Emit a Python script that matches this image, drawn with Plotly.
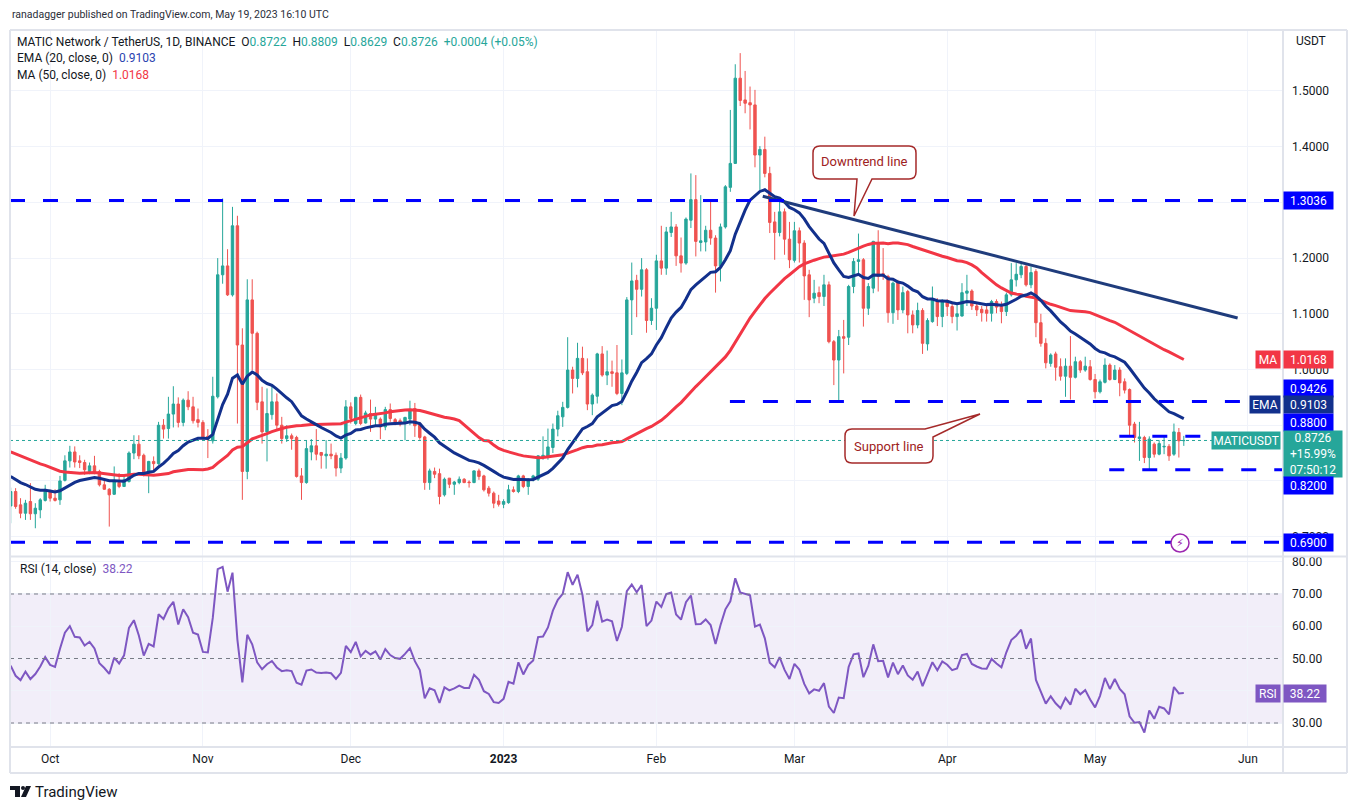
import pandas as pd
import plotly.graph_objects as go

# MATIC/USDT daily candles, 2022-09-23 .. 2023-05-19
opens = [
    0.755, 0.781, 0.757, 0.742, 0.763, 0.741, 0.748, 0.765,  # Sep
    0.781, 0.769, 0.766, 0.801, 0.836, 0.852, 0.836, 0.833, 0.817, 0.827, 0.817, 0.793, 0.785, 0.776, 0.797, 0.790,
    0.799, 0.850, 0.866, 0.846, 0.814, 0.835, 0.831, 0.900, 0.894, 0.920, 0.938, 0.905, 0.945, 0.933, 0.910,  # Oct
    0.905, 0.880, 0.872, 0.951, 1.170, 1.186, 1.134, 1.258, 1.044, 0.817, 1.125, 1.065, 0.942, 0.888, 0.919,
    0.942, 0.900, 0.876, 0.881, 0.878, 0.809, 0.797, 0.852, 0.863, 0.851, 0.845, 0.848, 0.846, 0.823, 0.841,  # Nov
    0.933, 0.903, 0.950, 0.904, 0.921, 0.911, 0.911, 0.897, 0.928, 0.910, 0.908, 0.904, 0.911, 0.930, 0.903, 0.879,
    0.797, 0.817, 0.813, 0.775, 0.805, 0.794, 0.797, 0.803, 0.798, 0.797, 0.818, 0.809, 0.787, 0.778, 0.764,  # Dec
    0.758, 0.761, 0.784, 0.781, 0.809, 0.790, 0.802, 0.803, 0.842, 0.842, 0.860, 0.893, 0.915, 0.932, 0.999, 0.984,
    1.020, 0.996, 0.938, 0.952, 1.028, 0.990, 0.996, 0.994, 0.957, 0.993, 1.125, 1.160, 1.144, 1.179, 1.088,  # Jan
    1.110, 1.195, 1.182, 1.246, 1.256, 1.204, 1.191, 1.268, 1.305, 1.228, 1.229, 1.250, 1.236, 1.186,
    1.256, 1.327, 1.370, 1.523, 1.484, 1.479, 1.475, 1.385, 1.395, 1.352, 1.265, 1.246, 1.283, 1.234,  # Feb
    1.196, 1.249, 1.227, 1.170, 1.128, 1.138, 1.131, 1.152, 1.050, 1.017, 1.059, 1.058, 1.149, 1.194, 1.197, 1.110,
    1.146, 1.225, 1.172, 1.167, 1.102, 1.156, 1.107, 1.140, 1.098, 1.080, 1.106, 1.046, 1.086, 1.122, 1.095,  # Mar
    1.124, 1.113, 1.095, 1.096, 1.137, 1.141, 1.114, 1.108, 1.107, 1.101, 1.122, 1.113, 1.104, 1.134, 1.161,
    1.170, 1.185, 1.152, 1.176, 1.084, 1.047, 1.011, 1.028, 1.005, 0.988, 1.006, 0.986, 1.014, 0.999, 1.005,  # Apr
    0.982, 0.960, 0.977, 1.008, 0.982, 0.999, 0.978, 0.964, 0.902, 0.876, 0.878, 0.842, 0.866, 0.848, 0.861,
    0.862, 0.848, 0.887, 0.8722,  # May
]
highs = [
    0.788, 0.787, 0.769, 0.766, 0.796, 0.760, 0.769, 0.793,
    0.784, 0.785, 0.809, 0.846, 0.863, 0.862, 0.846, 0.838, 0.833, 0.845, 0.820, 0.802, 0.787, 0.826, 0.814, 0.809,
    0.853, 0.882, 0.882, 0.849, 0.836, 0.844, 0.906, 0.911, 0.951, 0.970, 0.950, 0.948, 0.961, 0.951, 0.930,
    0.909, 0.893, 0.987, 1.200, 1.307, 1.216, 1.292, 1.276, 1.074, 1.162, 1.162, 1.068, 0.969, 0.966, 0.974,
    0.957, 0.915, 0.900, 0.885, 0.881, 0.823, 0.873, 0.875, 0.893, 0.852, 0.873, 0.867, 0.851, 0.850, 0.945,
    0.941, 0.951, 0.955, 0.926, 0.946, 0.933, 0.914, 0.933, 0.939, 0.913, 0.912, 0.915, 0.944, 0.940, 0.906, 0.881,
    0.822, 0.824, 0.822, 0.806, 0.805, 0.800, 0.808, 0.805, 0.801, 0.819, 0.822, 0.811, 0.791, 0.781, 0.775,
    0.767, 0.793, 0.790, 0.811, 0.811, 0.805, 0.811, 0.846, 0.880, 0.894, 0.903, 0.926, 0.942, 1.058, 1.005, 1.048,
    1.041, 1.020, 0.957, 1.030, 1.042, 1.034, 1.016, 1.044, 1.018, 1.130, 1.192, 1.170, 1.200, 1.182, 1.128,
    1.206, 1.258, 1.256, 1.283, 1.261, 1.237, 1.273, 1.352, 1.349, 1.313, 1.258, 1.304, 1.241, 1.262,
    1.331, 1.466, 1.548, 1.568, 1.536, 1.508, 1.502, 1.401, 1.418, 1.364, 1.283, 1.301, 1.289, 1.265,
    1.265, 1.255, 1.232, 1.179, 1.161, 1.149, 1.170, 1.158, 1.053, 1.071, 1.089, 1.152, 1.200, 1.244, 1.200, 1.155,
    1.231, 1.250, 1.218, 1.170, 1.158, 1.161, 1.149, 1.143, 1.106, 1.120, 1.110, 1.092, 1.149, 1.128, 1.126,
    1.126, 1.122, 1.119, 1.155, 1.170, 1.144, 1.119, 1.114, 1.116, 1.125, 1.126, 1.122, 1.138, 1.191, 1.191,
    1.194, 1.189, 1.185, 1.180, 1.100, 1.056, 1.029, 1.032, 1.020, 1.020, 1.060, 1.023, 1.017, 1.023, 1.017,
    0.992, 0.982, 1.020, 1.011, 1.008, 1.004, 0.984, 0.966, 0.906, 0.906, 0.881, 0.880, 0.869, 0.873, 0.879,
    0.866, 0.903, 0.895, 0.8809,
]
lows = [
    0.724, 0.750, 0.733, 0.730, 0.730, 0.715, 0.733, 0.763,
    0.763, 0.763, 0.757, 0.799, 0.824, 0.824, 0.823, 0.811, 0.812, 0.812, 0.790, 0.784, 0.718, 0.775, 0.787, 0.789,
    0.797, 0.839, 0.839, 0.808, 0.778, 0.817, 0.829, 0.876, 0.876, 0.896, 0.896, 0.898, 0.927, 0.903, 0.896,
    0.874, 0.841, 0.867, 0.948, 1.154, 1.132, 1.131, 0.903, 0.766, 0.803, 0.999, 0.927, 0.867, 0.835, 0.910,
    0.891, 0.867, 0.870, 0.856, 0.806, 0.766, 0.795, 0.837, 0.837, 0.822, 0.822, 0.839, 0.808, 0.814, 0.838,
    0.903, 0.900, 0.900, 0.903, 0.888, 0.897, 0.875, 0.891, 0.906, 0.900, 0.898, 0.873, 0.900, 0.879, 0.874, 0.784,
    0.784, 0.805, 0.758, 0.772, 0.787, 0.775, 0.794, 0.796, 0.788, 0.796, 0.802, 0.781, 0.772, 0.751, 0.754,
    0.751, 0.759, 0.779, 0.778, 0.787, 0.775, 0.799, 0.800, 0.838, 0.838, 0.850, 0.880, 0.897, 0.930, 0.957, 0.968,
    0.990, 0.927, 0.918, 0.939, 0.987, 0.972, 0.969, 0.954, 0.936, 0.990, 1.062, 1.094, 1.131, 1.066, 1.080,
    1.071, 1.170, 1.170, 1.238, 1.186, 1.174, 1.188, 1.254, 1.203, 1.212, 1.212, 1.224, 1.138, 1.158,
    1.253, 1.319, 1.369, 1.473, 1.460, 1.431, 1.363, 1.322, 1.345, 1.245, 1.197, 1.239, 1.206, 1.182,
    1.192, 1.192, 1.125, 1.094, 1.119, 1.119, 1.114, 1.047, 0.972, 0.944, 0.993, 1.044, 1.137, 1.173, 1.077, 1.098,
    1.137, 1.140, 1.161, 1.084, 1.082, 1.089, 1.101, 1.065, 1.065, 1.074, 1.028, 1.034, 1.084, 1.078, 1.076,
    1.096, 1.083, 1.070, 1.095, 1.114, 1.107, 1.096, 1.086, 1.086, 1.086, 1.101, 1.083, 1.096, 1.131, 1.149,
    1.164, 1.149, 1.146, 1.058, 1.041, 1.002, 1.005, 0.980, 0.980, 0.951, 0.946, 0.984, 0.994, 0.996, 0.980,
    0.948, 0.957, 0.975, 0.980, 0.981, 0.952, 0.957, 0.881, 0.869, 0.836, 0.832, 0.821, 0.842, 0.846, 0.848,
    0.836, 0.845, 0.842, 0.8629,
]
closes = [
    0.781, 0.754, 0.742, 0.760, 0.741, 0.751, 0.766, 0.785,
    0.769, 0.765, 0.800, 0.836, 0.852, 0.834, 0.833, 0.820, 0.827, 0.817, 0.793, 0.785, 0.775, 0.799, 0.790, 0.802,
    0.850, 0.866, 0.845, 0.814, 0.835, 0.831, 0.900, 0.893, 0.920, 0.938, 0.905, 0.945, 0.933, 0.908, 0.905,
    0.876, 0.875, 0.952, 1.170, 1.186, 1.134, 1.258, 1.044, 0.817, 1.125, 1.065, 0.941, 0.888, 0.921, 0.942,
    0.900, 0.876, 0.881, 0.876, 0.808, 0.797, 0.858, 0.863, 0.848, 0.846, 0.848, 0.845, 0.823, 0.841, 0.933,
    0.912, 0.950, 0.903, 0.922, 0.911, 0.921, 0.897, 0.928, 0.912, 0.904, 0.902, 0.914, 0.928, 0.899, 0.878, 0.797,
    0.818, 0.812, 0.772, 0.803, 0.794, 0.798, 0.803, 0.797, 0.797, 0.818, 0.808, 0.784, 0.778, 0.760, 0.758,
    0.763, 0.784, 0.781, 0.809, 0.790, 0.803, 0.809, 0.845, 0.846, 0.861, 0.893, 0.917, 0.932, 0.999, 0.984, 1.020,
    0.994, 0.938, 0.954, 1.028, 0.990, 0.996, 0.993, 0.957, 0.994, 1.125, 1.159, 1.144, 1.179, 1.088, 1.110,
    1.195, 1.182, 1.247, 1.256, 1.204, 1.191, 1.270, 1.305, 1.230, 1.231, 1.250, 1.236, 1.186, 1.256,
    1.328, 1.370, 1.523, 1.483, 1.478, 1.475, 1.385, 1.395, 1.352, 1.264, 1.246, 1.283, 1.234, 1.197,
    1.249, 1.227, 1.168, 1.125, 1.137, 1.131, 1.152, 1.050, 1.017, 1.059, 1.056, 1.149, 1.194, 1.197, 1.110, 1.149,
    1.230, 1.167, 1.168, 1.102, 1.155, 1.107, 1.138, 1.098, 1.080, 1.106, 1.047, 1.088, 1.125, 1.095, 1.124,
    1.113, 1.095, 1.100, 1.138, 1.141, 1.114, 1.107, 1.102, 1.101, 1.122, 1.112, 1.104, 1.134, 1.161, 1.171,
    1.185, 1.152, 1.174, 1.084, 1.047, 1.012, 1.026, 1.004, 0.988, 1.006, 0.986, 1.014, 0.999, 1.006, 0.982,
    0.960, 0.978, 1.008, 0.982, 0.999, 0.976, 0.963, 0.900, 0.878, 0.879, 0.842, 0.875, 0.848, 0.867, 0.862,
    0.845, 0.888, 0.872, 0.8726,
]
# closes before the visible window (Aug 4 .. Sep 22 2022), only used to warm up EMA / MA / RSI
pre_closes = [
    0.88, 0.94, 0.92, 0.93, 0.96, 0.90, 0.94, 0.91, 0.95, 0.97, 0.94, 0.90, 0.90, 0.86, 0.87, 0.80, 0.78, 0.82,
    0.84, 0.85, 0.85, 0.88, 0.80, 0.80, 0.77, 0.83, 0.84, 0.86,
    0.87, 0.86, 0.84, 0.86, 0.85, 0.78, 0.84, 0.84, 0.90, 0.91, 0.90, 0.90, 0.80, 0.82, 0.78, 0.80, 0.83, 0.77,
    0.79, 0.77, 0.74, 0.76,
]

# price labels that are not hidden behind the level tags
price_ticks = [0.7, 1.0, 1.1, 1.2, 1.4, 1.5]
rsi_ticks = [30, 40, 50, 60, 70, 80]
month_ticks = ["2022-10-01", "2022-11-01", "2022-12-01", "2023-01-01", "2023-02-01",
               "2023-03-01", "2023-04-01", "2023-05-01", "2023-06-01"]
month_labels = ["Oct", "Nov", "Dec", "<b>2023</b>", "Feb", "Mar", "Apr", "May", "Jun"]

# drawn levels
full_levels = [1.3036, 0.69]
level_0942 = (0.9426, "2023-02-15 22:00", "2023-05-31 19:00")
level_088 = (0.88, "2023-05-05 22:00", "2023-05-22 14:00")
level_082 = (0.82, "2023-05-03 21:00")
trend_x = ["2023-02-22 14:00", "2023-05-29 22:00"]
trend_y = [1.311, 1.0925]

UP, DOWN = "#26a69a", "#ef5350"
EMA_C, MA_C, RSI_C, LVL = "#12308c", "#f23645", "#7e57c2", "#0000ff"
TXT, GRID, FRAME = "#131722", "#f0f3fa", "#e0e3eb"

dates = pd.date_range("2022-09-23", periods=len(closes), freq="D")
n0 = len(pre_closes)
s = pd.Series(pre_closes + closes)
ema20 = s.ewm(span=20, adjust=False).mean().iloc[n0:].values
ma50 = s.rolling(50).mean().iloc[n0:].values
d = s.diff()
up = d.clip(lower=0).ewm(alpha=1 / 14, adjust=False).mean()
dn = (-d.clip(upper=0)).ewm(alpha=1 / 14, adjust=False).mean()
rsi = (100 - 100 / (1 + up / dn)).iloc[n0:].values

# page geometry (the browser puts the figure 8px in from the top-left corner)
OFF = 8
W, H = 1357 - OFF, 809 - OFF
L, R, T, B = 10 - OFF, 74, 30 - OFF, 63
PW, PH = W - L - R, H - T - B


def px(x):
    return (x - OFF - L) / PW


def py(y):
    return (H - B - (y - OFF)) / PH


fig = go.Figure()
fig.add_trace(go.Candlestick(
    x=dates, open=opens, high=highs, low=lows, close=closes, xaxis="x2", yaxis="y",
    increasing=dict(line=dict(color=UP, width=1), fillcolor=UP),
    decreasing=dict(line=dict(color=DOWN, width=1), fillcolor=DOWN),
    whiskerwidth=0, showlegend=False, hoverinfo="skip"))
fig.add_trace(go.Scatter(x=dates, y=ma50, xaxis="x2", yaxis="y", mode="lines",
                         line=dict(color=MA_C, width=3), showlegend=False))
fig.add_trace(go.Scatter(x=dates, y=ema20, xaxis="x2", yaxis="y", mode="lines",
                         line=dict(color=EMA_C, width=3), showlegend=False))
fig.add_trace(go.Scatter(x=trend_x, y=trend_y, xaxis="x2", yaxis="y", mode="lines",
                         line=dict(color="#1f3c7c", width=3), showlegend=False))
fig.add_trace(go.Scatter(x=dates, y=rsi, xaxis="x", yaxis="y2", mode="lines",
                         line=dict(color=RSI_C, width=2), showlegend=False))

shapes = []
dash = "15px,18px"
for lv in full_levels:
    shapes.append(dict(type="line", xref="paper", yref="y", x0=0, x1=1, y0=lv, y1=lv,
                       line=dict(color=LVL, width=3, dash=dash)))
for lv, a, b in [level_0942, level_088]:
    shapes.append(dict(type="line", xref="x2", yref="y", x0=a, x1=b, y0=lv, y1=lv,
                       line=dict(color=LVL, width=3, dash=dash)))
shapes.append(dict(type="line", xref="x2", yref="y", x0=level_082[1], x1="2023-06-09", y0=level_082[0],
                   y1=level_082[0], line=dict(color=LVL, width=3, dash=dash)))
# last price dotted line
shapes.append(dict(type="line", xref="paper", yref="y", x0=0, x1=1, y0=closes[-1], y1=closes[-1],
                   line=dict(color=UP, width=1, dash="dot")))
# RSI band + levels
shapes.append(dict(type="rect", xref="paper", yref="y2", x0=0, x1=1, y0=30, y1=70,
                   fillcolor="rgba(126,87,194,0.1)", line=dict(width=0), layer="below"))
for lv in [70, 50, 30]:
    shapes.append(dict(type="line", xref="paper", yref="y2", x0=0, x1=1, y0=lv, y1=lv,
                       line=dict(color="#787b86", width=1, dash="4px,4px")))


def seg(x0, y0, x1, y1, c=FRAME, w=2):
    return dict(type="line", xref="paper", yref="paper", x0=px(x0), y0=py(y0), x1=px(x1), y1=py(y1),
                line=dict(color=c, width=w))


# frame and pane separators
shapes += [seg(10, 30, 1347, 30), seg(10, 30, 10, 773), seg(1347, 30, 1347, 773), seg(10, 773, 1347, 773),
           seg(1283, 30, 1283, 773), seg(10, 747, 1347, 747), seg(10, 556.5, 1347, 556.5)]


def pt(x, y):
    return f"{px(x):.5f},{py(y):.5f}"


def bubble(pts):
    out = "M" + pt(*pts[0])
    for p in pts[1:]:
        if len(p) == 4:
            out += " Q" + pt(p[0], p[1]) + " " + pt(p[2], p[3])
        else:
            out += " L" + pt(*p)
    return out + " Z"


r = 7
down_box = [(813 + r, 146), (916 - r, 146), (916, 146, 916, 146 + r), (916, 179 - r), (916, 179, 916 - r, 179),
            (872, 179), (854, 216), (857, 179), (813 + r, 179), (813, 179, 813, 179 - r), (813, 146 + r),
            (813, 146, 813 + r, 146)]
sup_box = [(845 + r, 429), (925, 429), (980, 414), (933, 437), (933, 463 - r), (933, 463, 933 - r, 463),
           (845 + r, 463), (845, 463, 845, 463 - r), (845, 429 + r), (845, 429, 845 + r, 429)]
for bx in [down_box, sup_box]:
    shapes.append(dict(type="path", xref="paper", yref="paper", path=bubble(bx),
                       fillcolor="white", line=dict(color="#a52a2a", width=1.5)))
# alert icon circle
shapes.append(dict(type="circle", xref="paper", yref="paper", x0=px(1171), x1=px(1189), y0=py(552), y1=py(534),
                   fillcolor="white", line=dict(color="#9c27b0", width=1.5)))
# TradingView logo mark
shapes += [
    dict(type="rect", xref="paper", yref="paper", x0=px(10), x1=px(20), y0=py(790), y1=py(786),
         fillcolor=TXT, line=dict(width=0)),
    dict(type="rect", xref="paper", yref="paper", x0=px(15), x1=px(20), y0=py(797), y1=py(786),
         fillcolor=TXT, line=dict(width=0)),
    dict(type="circle", xref="paper", yref="paper", x0=px(21), x1=px(25), y0=py(790), y1=py(786),
         fillcolor=TXT, line=dict(width=0)),
    dict(type="path", xref="paper", yref="paper",
         path=f"M{pt(26, 786)} L{pt(31, 786)} L{pt(26, 797)} L{pt(21, 797)} Z", fillcolor=TXT, line=dict(width=0)),
]

ann = []


def text(x, y, t, size=12, color=TXT, anchor="left", fam="Roboto"):
    ann.append(dict(xref="paper", yref="paper", x=px(x), y=py(y), xanchor=anchor, yanchor="middle",
                    text=t, showarrow=False, font=dict(size=size, color=color, family=fam)))


def box(t, yv, bg, yref="y", shift=0, x=1283, w=47, h=15, anchor="left", fc="white"):
    ann.append(dict(xref="paper", x=px(x), xanchor=anchor, yref=yref, y=yv, yshift=shift, yanchor="middle",
                    text=t, showarrow=False, bgcolor=bg, width=w, height=h, borderpad=1, align="center",
                    font=dict(size=12, color=fc, family="Roboto")))


text(10, 14, "ranadagger published on TradingView.com, May 19, 2023 16:10 UTC", size=10.5, color="#2a2e39")
g = f"color:{UP}"
text(15, 42, f"MATIC Network / TetherUS, 1D, BINANCE  O<span style='{g}'>0.8722</span>  "
             f"H<span style='{g}'>0.8809</span>  L<span style='{g}'>0.8629</span>  "
             f"C<span style='{g}'>0.8726</span>  <span style='{g}'>+0.0004 (+0.05%)</span>", size=12)
text(15, 58, f"EMA (20, close, 0)  <span style='color:#2a44b0'>0.9103</span>", size=12)
text(15, 75, f"MA (50, close, 0)  <span style='color:{MA_C}'>1.0168</span>", size=12)
text(18, 569, f"RSI (14, close)  <span style='color:{RSI_C}'>38.22</span>", size=12)
text(1294, 41, "USDT", size=12)
text(864, 162, "Downtrend line", size=13, color="#9e2121", anchor="center")
text(889, 446, "Support line", size=13, color="#9e2121", anchor="center")
text(1180, 543, "⚡", size=11, color="#9c27b0", anchor="center", fam="DejaVu Sans")
text(33, 792, "TradingView", size=15, color=TXT)

box("1.3036", 1.3036, LVL)
box("1.0168", ma50[-1], MA_C)
box("MA", ma50[-1], MA_C, x=1281, w=22, anchor="right")
box("0.9426", 0.9426, LVL, shift=13)
box("0.9103", ema20[-1], EMA_C, shift=14)
box("EMA", ema20[-1], EMA_C, shift=14, x=1281, w=28, anchor="right")
box("0.8800", 0.88, LVL, shift=14)
box("MATICUSDT", closes[-1], UP, x=1281, w=66, anchor="right")
box("0.8726<br>+15.99%<br>07:50:12", closes[-1], UP, shift=-14, w=56, h=44)
box("0.8200", 0.82, LVL, shift=-16)
box("0.6900", 0.69, LVL)
box("38.22", rsi[-1], RSI_C, yref="y2", w=40)
box("RSI", rsi[-1], RSI_C, yref="y2", x=1281, w=22, anchor="right")

axfont = dict(size=12, color=TXT, family="Roboto")
fig.update_layout(
    width=W, height=H, margin=dict(l=L, r=R, t=T, b=B),
    paper_bgcolor="white", plot_bgcolor="white", showlegend=False,
    font=dict(family="Roboto", color=TXT),
    xaxis=dict(domain=[0, 1], anchor="y2", range=["2022-09-22 20:40", "2023-06-08 03:00"],
               tickvals=month_ticks, ticktext=month_labels, showgrid=True, gridcolor=GRID,
               zeroline=False, showline=False, ticks="", tickfont=axfont, ticklabelstandoff=4,
               rangeslider=dict(visible=False)),
    xaxis2=dict(domain=[0, 1], anchor="y", matches="x", showticklabels=False, showgrid=True,
                gridcolor=GRID, zeroline=False, tickvals=month_ticks, rangeslider=dict(visible=False)),
    yaxis=dict(domain=[py(556), 1], side="right", range=[0.6652, 1.6095], tickvals=price_ticks,
               ticktext=[f"{v:.4f}" for v in price_ticks], showgrid=False,
               zeroline=False, ticks="", tickfont=axfont, ticklabelstandoff=8),
    yaxis3=dict(domain=[py(556), 1], side="right", range=[0.6652, 1.6095], overlaying="y",
                tickvals=[0.7, 0.8, 0.9, 1.0, 1.1, 1.2, 1.3, 1.4, 1.5], showticklabels=False,
                showgrid=True, gridcolor=GRID, zeroline=False, ticks=""),
    yaxis2=dict(domain=[0, py(557)], side="right", range=[22.87, 81.47], tickvals=rsi_ticks,
                ticktext=[f"{v:.2f}" for v in rsi_ticks], showgrid=True, gridcolor=GRID,
                zeroline=False, ticks="", tickfont=axfont, ticklabelstandoff=8),
    shapes=shapes, annotations=ann,
)
# an empty trace so the grid-only axis is drawn
fig.add_trace(go.Scatter(x=[None], y=[None], xaxis="x2", yaxis="y3", showlegend=False))

fig.write_html("out.html")
